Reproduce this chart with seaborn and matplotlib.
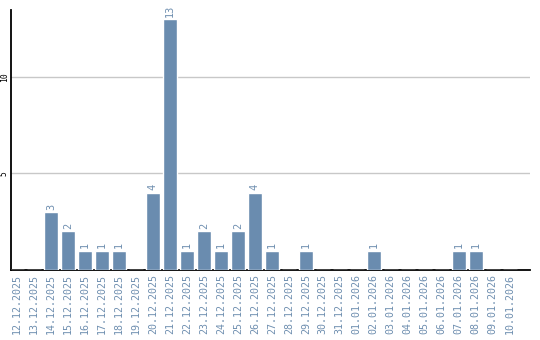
import matplotlib
matplotlib.use("Agg")
import matplotlib.pyplot as plt
import seaborn as sns
import pandas as pd

dates = ["12.12.2025", "13.12.2025", "14.12.2025", "15.12.2025", "16.12.2025",
         "17.12.2025", "18.12.2025", "19.12.2025", "20.12.2025", "21.12.2025",
         "22.12.2025", "23.12.2025", "24.12.2025", "25.12.2025", "26.12.2025",
         "27.12.2025", "28.12.2025", "29.12.2025", "30.12.2025", "31.12.2025",
         "01.01.2026", "02.01.2026", "03.01.2026", "04.01.2026", "05.01.2026",
         "06.01.2026", "07.01.2026", "08.01.2026", "09.01.2026", "10.01.2026"]
counts = [0, 0, 3, 2, 1, 1, 1, 0, 4, 13, 1, 2, 1, 2, 4, 1, 0, 1, 0, 0,
          0, 1, 0, 0, 0, 0, 1, 1, 0, 0]
yticks = [5, 10]

bar_color = "#6a8caf"
text_color = "#6f8fb0"

sns.set_style("white")
df = pd.DataFrame({"date": dates, "count": counts})

fig = plt.figure(figsize=(5.4, 3.4), dpi=100)
ax = fig.add_axes([11/540, 70/340, 519/540, 260/340])
sns.barplot(data=df, x="date", y="count", color=bar_color, saturation=1,
            width=0.82, ax=ax, zorder=3)

for i, v in enumerate(counts):
    if v > 0:
        ax.text(i, v + 0.12, str(v), rotation=90, ha="center", va="bottom",
                fontsize=7.4, color=text_color, family="DejaVu Sans Mono")

ax.set_xlim(-0.35, 30.2)
ax.set_ylim(0, 13.47)
ax.set_yticks(yticks)
ax.set_yticklabels([str(t) for t in yticks], rotation=90, va="center",
                   fontsize=5.8, color="black", family="DejaVu Sans Mono")
ax.yaxis.grid(True, color="#c8c8c8", linewidth=1, zorder=0)
ax.set_axisbelow(True)
ax.tick_params(axis="y", length=0, pad=1.5)
ax.tick_params(axis="x", length=0, pad=3)
ax.set_xticks(range(len(dates)))
ax.set_xticklabels(dates, rotation=90, fontsize=7.2, color=text_color,
                   family="DejaVu Sans Mono")
ax.set_xlabel("")
ax.set_ylabel("")
for s in ["top", "right"]:
    ax.spines[s].set_visible(False)
for s in ["left", "bottom"]:
    ax.spines[s].set_color("black")
    ax.spines[s].set_linewidth(1.3)

fig.savefig("out.png", dpi=100)
